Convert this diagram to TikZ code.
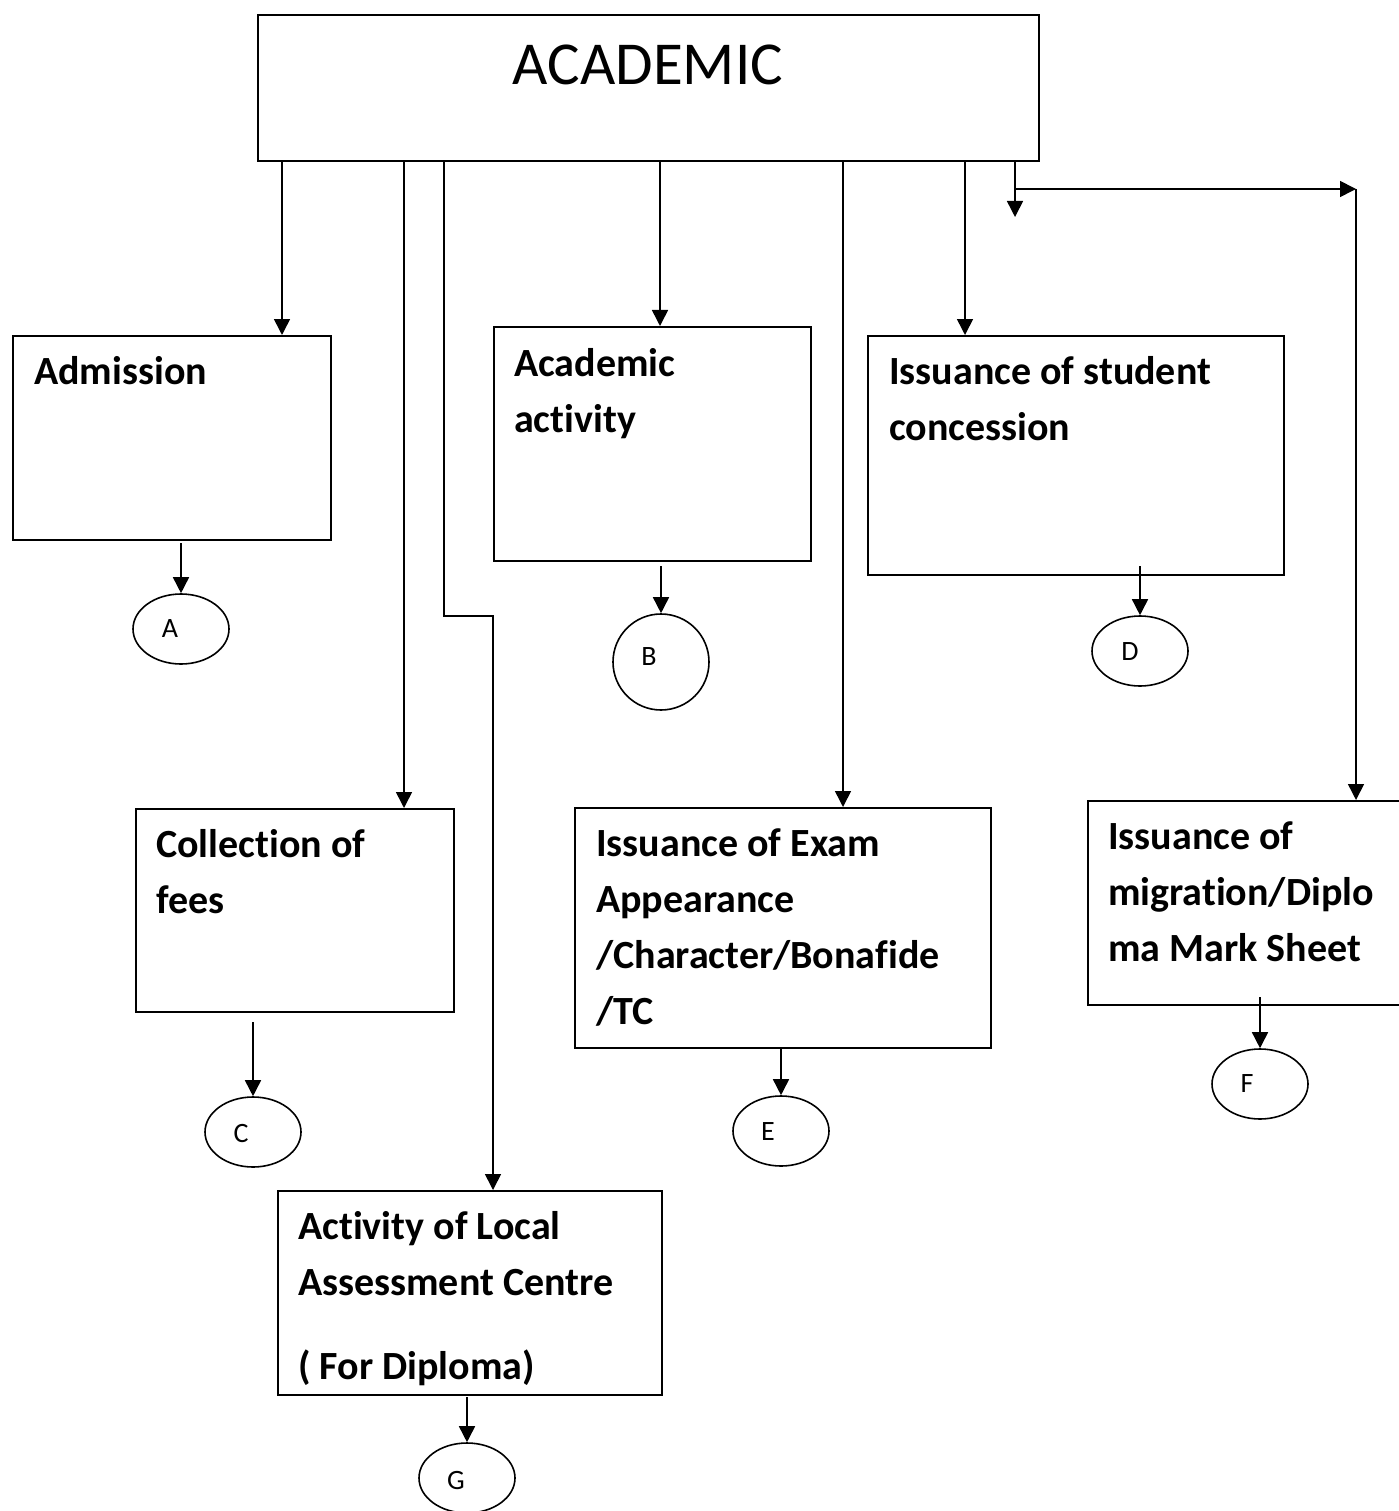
\documentclass[tikz,border=0pt]{standalone}
\usepackage{fontspec}
\setmainfont{Carlito}[Ligatures={NoCommon,NoContextual,NoRequired},RawFeature={-dlig;-calt}]
\usetikzlibrary{arrows.meta,shapes.geometric}
\tikzset{
  box/.style={draw,line width=1.6pt,anchor=north west,inner sep=0pt,rectangle},
  lbl/.style={anchor=base west,inner sep=0pt,font=\fontsize{40}{56}\selectfont\bfseries},
  let/.style={inner sep=0pt,font=\fontsize{28}{30}\selectfont},
  oval/.style={draw,line width=1.6pt,ellipse,minimum width=96pt,minimum height=70pt,inner sep=0pt},
  arr/.style={line width=1.6pt,-{Triangle[length=16pt,width=16pt]}},
  ln/.style={line width=1.6pt}
}
\begin{document}
\begin{tikzpicture}[x=1pt,y=-1pt]
\useasboundingbox (0,0) rectangle (1398,1511);
% boxes
\node[box,minimum width=781pt,minimum height=146pt] (acad) at (257,14) {};
\node[inner sep=0pt,font=\fontsize{61}{70}\selectfont] (acadt) at (648,65) {ACADEMIC};
\node[box,minimum width=318pt,minimum height=204pt] (adm) at (12,335) {};
\node[box,minimum width=317pt,minimum height=234pt] (aca) at (493,326) {};
\node[box,minimum width=416pt,minimum height=239pt] (isc) at (867,335) {};
\node[box,minimum width=318pt,minimum height=203pt] (col) at (135,808) {};
\node[box,minimum width=416pt,minimum height=240pt] (exa) at (574,807) {};
\node[box,minimum width=314pt,minimum height=204pt] (mig) at (1087,800) {};
\node[box,minimum width=384pt,minimum height=204pt] (act) at (277,1190) {};
% texts
\node[lbl] (t1) at (34,384) {Admission};
\node[lbl] (t2a) at (514,376) {Academic};
\node[lbl] (t2b) at (514,432) {activity};
\node[lbl] (t3a) at (889,384) {Issuance of student};
\node[lbl] (t3b) at (889,440) {concession};
\node[lbl] (t4a) at (156,857) {Collection of};
\node[lbl] (t4b) at (156,913) {fees};
\node[lbl] (t5a) at (596,856) {Issuance of Exam};
\node[lbl] (t5b) at (596,912) {Appearance};
\node[lbl] (t5c) at (596,968) {/Character/Bonafide};
\node[lbl] (t5d) at (596,1024) {/TC};
\node[lbl] (t6a) at (1108,849) {Issuance of};
\node[lbl] (t6b) at (1108,905) {migration/Diplo};
\node[lbl] (t6c) at (1108,961) {ma Mark Sheet};
\node[lbl] (t7a) at (298,1239) {Activity of Local};
\node[lbl] (t7b) at (298,1295) {Assessment Centre};
\node[lbl] (t7c) at (298,1379) {( For Diploma)};
% ovals
\node[oval] (eA) at (181,629) {};
\node[let] (lA) at (170,629) {A};
\node[draw,line width=1.6pt,circle,minimum size=96pt,inner sep=0pt] (eB) at (661,662) {};
\node[let] (lB) at (649,657) {B};
\node[oval] (eC) at (253,1132) {};
\node[let] (lC) at (241,1133) {C};
\node[oval] (eD) at (1140,651) {};
\node[let] (lD) at (1130,652) {D};
\node[oval] (eE) at (781,1131) {};
\node[let] (lE) at (768,1132) {E};
\node[oval] (eF) at (1260,1084) {};
\node[let] (lF) at (1247,1084) {F};
\node[oval] (eG) at (467,1478) {};
\node[let] (lG) at (456,1480) {G};
% connectors from ACADEMIC
\draw[arr] (acad.south -| 282,0) -- (adm.north -| 282,0);
\draw[arr] (acad.south -| 404,0) -- (col.north -| 404,0);
\draw[arr] (acad.south -| 444,0) |- (493,616) -- (act.north -| 493,0);
\draw[arr] (acad.south -| 660,0) -- (aca.north -| 660,0);
\draw[arr] (acad.south -| 843,0) -- (exa.north -| 843,0);
\draw[arr] (acad.south -| 965,0) -- (isc.north -| 965,0);
\coordinate (dn) at (1015,217);
\coordinate (br) at (1015,189);
\coordinate (cr) at (1356,189);
\draw[arr] (acad.south -| 1015,0) -- (dn);
\draw[arr] (br) -- (cr);
\draw[arr] (cr) -- (mig.north -| cr);
% connectors to ovals
\coordinate (sA) at (181,543);
\coordinate (sB) at (661,566);
\coordinate (sC) at (253,1022);
\coordinate (sD) at (1140,566);
\coordinate (sE) at (781,1049);
\coordinate (sF) at (1260,997);
\coordinate (sG) at (467,1397);
\draw[arr] (sA) -- (eA.north);
\draw[arr] (sB) -- (eB.north);
\draw[arr] (sC) -- (eC.north);
\draw[arr] (sD) -- (eD.north);
\draw[arr] (sE) -- (eE.north);
\draw[arr] (sF) -- (eF.north);
\draw[arr] (sG) -- (eG.north);
\end{tikzpicture}
\end{document}
